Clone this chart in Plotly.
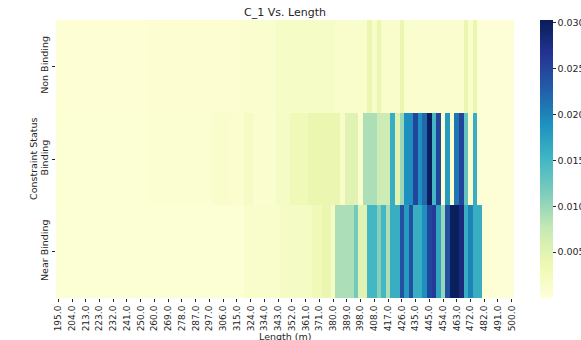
import numpy as np
import plotly.graph_objects as go

lengths = np.linspace(195, 500, 100)
status = ["Non Binding", "Binding", "Near Binding"]

def seg(pairs):
    out = []
    for v, n in pairs:
        out += [v] * n
    return out

non_binding = seg([
    (0.0005, 20), (0.0007, 20), (0.001, 8), (0.0018, 13), (0.0012, 7),
    (0.004, 1), (0.0015, 1), (0.004, 1), (0.0012, 4), (0.004, 1),
    (0.001, 13), (0.004, 1), (0.001, 1), (0.004, 1), (0.0003, 8),
])
binding = seg([
    (0.0006, 20), (0.0008, 14), (0.0013, 4), (0.0009, 3), (0.002, 2),
    (0.001, 5), (0.002, 3), (0.003, 4), (0.004, 7), (0.0015, 1),
    (0.005, 3), (0.001, 1), (0.009, 3), (0.007, 3), (0.016, 1),
    (0.005, 1), (0.010, 1), (0.019, 2), (0.025, 1), (0.019, 1),
    (0.022, 1), (0.030, 1), (0.015, 1), (0.025, 1), (0.001, 1),
    (0.018, 1), (0.001, 1), (0.021, 1), (0.025, 1), (0.013, 1),
    (0.001, 1), (0.016, 1), (0.0004, 8),
])
near_binding = seg([
    (0.0006, 41), (0.0012, 8), (0.002, 7), (0.003, 2), (0.004, 2),
    (0.002, 1), (0.009, 4), (0.012, 1), (0.005, 2), (0.015, 2),
    (0.011, 1), (0.015, 1), (0.009, 1), (0.016, 2), (0.024, 1),
    (0.018, 1), (0.024, 1), (0.016, 2), (0.019, 1), (0.025, 1),
    (0.026, 1), (0.017, 1), (0.010, 1), (0.024, 1), (0.030, 2),
    (0.028, 1), (0.016, 1), (0.020, 1), (0.016, 2), (0.0003, 7),
])

tick_idx = list(range(0, 100, 3))
tick_labels = ["195.0", "204.0", "213.0", "223.0", "232.0", "241.0", "250.0", "260.0",
               "269.0", "278.0", "287.0", "297.0", "306.0", "315.0", "324.0", "334.0",
               "343.0", "352.0", "361.0", "371.0", "380.0", "389.0", "398.0", "408.0",
               "417.0", "426.0", "435.0", "445.0", "454.0", "463.0", "472.0", "482.0",
               "491.0", "500.0"]
cbar_ticks = [0.005, 0.010, 0.015, 0.020, 0.025, 0.030]

ylgnbu = ['#ffffd9', '#edf8b1', '#c7e9b4', '#7fcdbb', '#41b6c4',
          '#1d91c0', '#225ea8', '#253494', '#081d58']
colorscale = [[i / (len(ylgnbu) - 1), c] for i, c in enumerate(ylgnbu)]

font = dict(family="DejaVu Sans", size=9.5, color="#262626")
tickfont = dict(family="DejaVu Sans", size=9, color="#262626")

W, H = 581, 340
L, R, T, B = 56, 67, 20, 42
PW, PH = W - L - R, H - T - B

fig = go.Figure(go.Heatmap(
    z=[non_binding, binding, near_binding],
    x=lengths,
    y=status,
    colorscale=colorscale,
    zmin=0.0,
    zmax=0.0303,
    colorbar=dict(
        x=1.0 + 26 / PW, xanchor="left", xpad=0, ypad=0,
        y=0.5, yanchor="middle", len=1.0, lenmode="fraction",
        thickness=13, outlinewidth=0,
        tickvals=cbar_ticks, tickformat=".3f",
        ticks="outside", ticklen=3, tickcolor="#262626",
        tickfont=font,
    ),
))

fig.update_layout(
    width=W, height=H,
    margin=dict(l=L, r=R, t=T, b=B, autoexpand=False),
    paper_bgcolor="white", plot_bgcolor="white",
    font=font,
    title=dict(text="C_1 Vs. Length", x=0.5, xref="paper", xanchor="center",
               y=1 - 12.5 / H, yref="container", yanchor="middle",
               font=dict(family="DejaVu Sans", size=11, color="#262626")),
    annotations=[
        dict(text="Length (m)", xref="paper", yref="paper",
             x=0.5, y=-(38 / PH), xanchor="center", yanchor="middle",
             showarrow=False, font=font),
        dict(text="Constraint Status", xref="paper", yref="paper",
             x=-(23 / PW), y=0.5, xanchor="center", yanchor="middle",
             textangle=-90, showarrow=False, font=font),
    ],
)
fig.update_xaxes(
    automargin=False,
    tickmode="array",
    tickvals=[lengths[i] for i in tick_idx],
    ticktext=tick_labels,
    tickangle=-90,
    ticks="outside", ticklen=3, tickcolor="#262626",
    showgrid=False, zeroline=False, showline=False,
    tickfont=tickfont,
)
fig.update_yaxes(
    automargin=False,
    autorange="reversed",
    tickangle=-90,
    ticks="outside", ticklen=3, tickcolor="#262626",
    showgrid=False, zeroline=False, showline=False,
    tickfont=font,
)

fig.write_html("out.html",
               config={"displayModeBar": False},
               post_script="document.body.style.margin='0';document.body.style.overflow='hidden';")
